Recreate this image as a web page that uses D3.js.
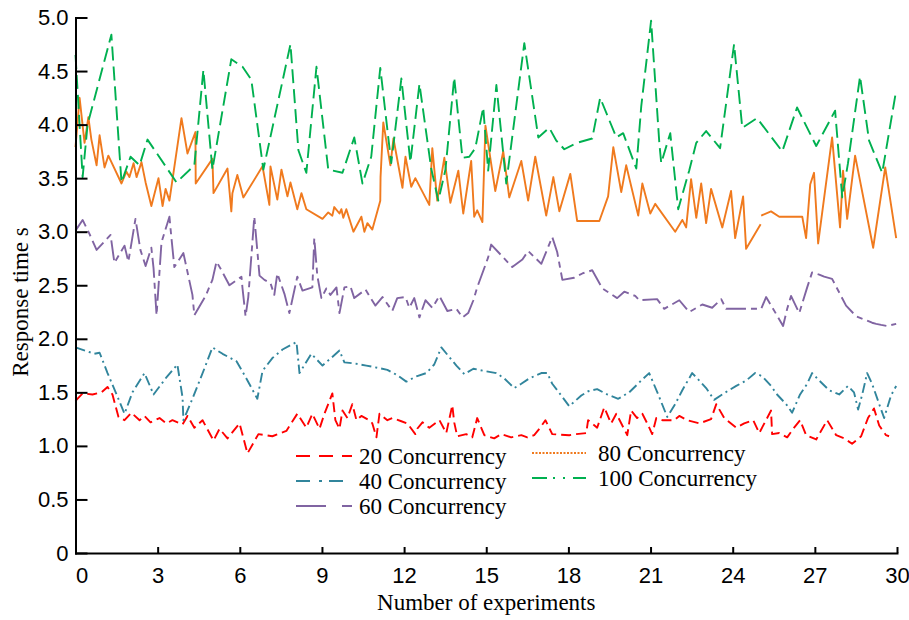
<!DOCTYPE html>
<html lang="en">
<head>
<meta charset="UTF-8">
<title>Response time vs Number of experiments</title>
<script src="https://d3js.org/d3.v7.min.js"></script>
<style>
    body {
        margin: 0;
        background: #fff;
    }
    svg {
        display: block;
        font-family: "Liberation Serif", "Times New Roman", serif;
    }
    .axis path, .axis line {
        stroke: #000;
        stroke-width: 2;
    }
    .axis text {
        font-size: 22px;
        fill: #000;
    }
    .title, .legend text {
        font-size: 23px;
        fill: #000;
    }
    .series {
        fill: none;
        stroke-width: 1.9;
        stroke-linejoin: round;
    }
</style>
</head>
<body>
<svg width="909" height="620"></svg>
<script>
    // x = experiment number, y = response time (s)
    const c20X = [0,0.26,0.62,0.95,1.17,1.35,1.57,1.79,2.04,2.34,2.52,2.74,3.07,3.32,3.54,3.91,4.09,4.34,4.64,5.04,5.26,5.55,5.99,6.28,6.68,7.19,7.70,8.10,8.43,8.65,8.91,9.09,9.38,9.49,9.64,9.75,9.93,10.11,10.26,10.44,10.73,10.84,10.99,11.10,11.39,11.57,11.90,12.12,12.41,12.48,12.67,12.92,13.29,13.54,13.76,13.83,13.94,14.27,14.49,14.67,14.93,15.29,15.55,15.91,16.28,16.50,16.75,16.97,17.16,17.41,18.03,18.29,18.65,18.72,19.05,19.31,19.56,19.75,19.97,20.15,20.29,20.51,20.70,20.88,21.06,21.21,21.43,21.86,22.05,22.34,22.78,23.21,23.40,23.69,24.13,24.42,24.75,24.97,25.40,25.44,25.70,25.99,26.21,26.46,26.68,27.05,27.45,27.78,28.07,28.36,28.69,28.94,29.16,29.35,29.60,29.71];
    const c20Y = [1.42,1.49,1.48,1.50,1.55,1.48,1.27,1.24,1.31,1.24,1.28,1.22,1.26,1.21,1.24,1.20,1.28,1.17,1.24,1.05,1.16,1.07,1.21,0.93,1.11,1.09,1.14,1.30,1.17,1.30,1.16,1.30,1.49,1.24,1.16,1.33,1.26,1.39,1.24,1.28,1.24,1.21,1.08,1.30,1.24,1.26,1.23,1.21,1.11,1.16,1.22,1.17,1.24,1.12,1.38,1.22,1.09,1.11,1.08,1.26,1.10,1.07,1.11,1.08,1.10,1.08,1.10,1.17,1.24,1.11,1.10,1.11,1.12,1.24,1.17,1.36,1.21,1.30,1.19,1.10,1.33,1.26,1.30,1.21,1.11,1.26,1.24,1.24,1.28,1.24,1.21,1.25,1.39,1.26,1.17,1.21,1.24,1.12,1.33,1.11,1.12,1.08,1.16,1.24,1.10,1.06,1.24,1.10,1.07,1.02,1.09,1.26,1.35,1.19,1.10,1.09];

    const c40X = [0,0.69,0.88,1.17,1.50,1.79,2.08,2.52,2.85,3.32,3.72,3.91,3.94,4.27,4.75,5.00,5.37,5.88,6.24,6.64,6.83,7.19,7.56,8.07,8.18,8.61,9.02,9.64,9.82,10.18,10.62,11.02,11.39,11.75,12.08,12.45,12.81,13.10,13.36,13.65,13.91,14.20,14.53,14.93,15.37,15.66,16.02,16.28,16.57,17.01,17.23,17.41,17.74,18.03,18.47,18.72,19.05,19.42,19.82,20.22,20.70,20.95,21.28,21.61,21.90,22.16,22.52,22.78,23.03,23.32,23.80,24.13,24.49,24.82,25.08,25.40,25.62,25.95,26.17,26.46,26.72,26.90,27.12,27.52,27.89,28.21,28.43,28.58,28.73,28.91,29.09,29.35,29.53,29.78,29.97];
    const c40Y = [1.92,1.86,1.87,1.68,1.48,1.30,1.50,1.68,1.48,1.64,1.76,1.45,1.24,1.44,1.75,1.92,1.86,1.79,1.63,1.44,1.70,1.82,1.90,1.97,1.68,1.86,1.75,1.89,1.78,1.77,1.75,1.73,1.71,1.66,1.60,1.65,1.68,1.76,1.92,1.83,1.75,1.67,1.72,1.70,1.68,1.63,1.54,1.58,1.63,1.68,1.68,1.58,1.47,1.37,1.47,1.51,1.53,1.48,1.44,1.50,1.62,1.68,1.48,1.27,1.39,1.52,1.68,1.61,1.54,1.43,1.51,1.56,1.61,1.68,1.65,1.56,1.48,1.39,1.31,1.48,1.58,1.68,1.62,1.52,1.48,1.56,1.50,1.34,1.48,1.68,1.58,1.39,1.26,1.47,1.56];

    const c60X = [0,0.26,0.51,0.77,1.28,1.42,1.79,1.93,2.19,2.37,2.56,2.77,2.85,2.96,3.14,3.43,3.50,3.61,3.94,4.27,4.34,4.75,5.00,5.15,5.33,5.62,6.06,6.10,6.21,6.31,6.53,6.72,6.90,7.12,7.26,7.37,7.63,7.81,8.10,8.29,8.65,8.72,8.83,8.98,9.16,9.31,9.53,9.64,9.82,10.04,10.18,10.59,10.95,11.21,11.57,11.75,12.05,12.19,12.37,12.56,12.78,13.03,13.29,13.58,13.91,14.13,14.34,14.53,14.67,15.07,15.18,15.95,16.32,16.53,17.01,17.41,17.59,17.78,18.21,18.51,18.87,19.24,19.78,20.04,20.44,20.59,21.24,21.50,22.05,22.41,22.89,23.25,23.58,23.76,24.60,25.04,25.22,25.29,25.59,25.84,25.99,26.13,26.43,26.72,26.90,27.16,27.34,27.63,28.14,28.51,28.91,29.09,29.24,29.42,29.64,29.97];
    const c60Y = [3.01,3.11,2.98,2.83,2.97,2.71,2.87,2.72,3.12,2.83,2.68,2.85,2.66,2.22,2.90,3.14,2.95,2.67,2.80,2.41,2.22,2.40,2.55,2.72,2.64,2.50,2.58,2.47,2.21,2.39,3.14,2.59,2.55,2.52,2.41,2.61,2.42,2.24,2.58,2.45,2.48,2.94,2.59,2.38,2.47,2.41,2.48,2.24,2.48,2.49,2.38,2.46,2.31,2.39,2.26,2.38,2.39,2.29,2.38,2.20,2.36,2.29,2.40,2.26,2.28,2.20,2.24,2.36,2.48,2.76,2.88,2.67,2.74,2.82,2.70,2.95,2.81,2.55,2.57,2.61,2.64,2.47,2.38,2.44,2.40,2.36,2.37,2.28,2.36,2.25,2.32,2.29,2.37,2.28,2.28,2.28,2.39,2.36,2.23,2.12,2.28,2.40,2.24,2.48,2.62,2.60,2.58,2.56,2.31,2.21,2.17,2.15,2.14,2.13,2.12,2.14];

    // null = break in the 80 line
    const c80X = [0,0.15,0.33,0.47,0.58,0.77,0.88,1.06,1.20,1.68,1.86,1.97,2.12,2.23,2.41,2.56,2.77,3.03,3.18,3.29,3.43,3.87,4.09,4.38,4.39,5.00,5.04,5.55,5.69,5.73,5.91,6.13,6.83,7.08,7.12,7.37,7.52,7.74,7.85,8.10,8.25,8.43,9.02,9.23,9.38,9.45,9.64,9.71,9.78,9.89,10.15,10.44,10.55,10.66,10.84,11.13,11.14,11.24,11.50,11.61,11.94,12.05,12.26,12.41,12.92,13.03,13.21,13.47,13.69,13.98,14.16,14.45,14.56,14.67,14.86,14.97,15.33,15.62,15.84,16.28,16.53,16.79,17.19,17.45,17.67,18.07,18.32,19.13,19.45,19.64,19.93,20.11,20.55,20.70,20.99,21.17,21.90,22.16,22.30,22.48,22.67,22.85,23.03,23.21,23.62,23.94,24.09,24.38,24.49,25.02,25.03,25.04,25.40,25.70,26.54,26.68,26.83,26.97,27.12,27.63,27.92,28.03,28.18,28.47,29.13,29.57,29.97];
    const c80Y = [3.79,4.25,3.83,4.07,3.86,3.62,3.90,3.60,3.71,3.45,3.56,3.51,3.64,3.51,3.65,3.46,3.24,3.50,3.24,3.40,3.29,4.06,3.73,3.93,3.45,3.68,3.36,3.59,3.19,3.36,3.53,3.32,3.61,3.25,3.61,3.30,3.58,3.33,3.46,3.21,3.36,3.21,3.12,3.18,3.15,3.23,3.17,3.21,3.13,3.21,3.00,3.14,3.00,3.08,3.02,3.29,3.51,4.02,3.62,3.87,3.41,3.70,3.42,3.50,3.25,3.78,3.29,3.69,3.27,3.57,3.17,3.66,3.14,3.20,3.09,3.99,3.38,3.75,3.32,3.66,3.29,3.70,3.15,3.51,3.19,3.54,3.10,3.10,3.33,3.79,3.37,3.62,3.15,3.45,3.17,3.26,3.00,3.11,3.04,3.49,3.13,3.45,3.08,3.40,3.04,3.38,2.94,3.33,2.84,3.07,null,3.15,3.19,3.14,3.14,2.94,3.44,3.55,2.89,3.88,3.04,3.57,3.12,3.71,2.85,3.60,2.94];

    const c100X = [0,0.26,0.44,1.31,1.68,2.01,2.34,2.63,3.69,4.34,4.67,5.00,5.69,6.10,6.42,6.86,7.85,8.14,8.43,8.80,9.23,9.75,10.18,10.48,10.80,11.13,11.53,11.90,12.23,12.56,12.99,13.25,13.51,13.83,14.13,14.38,14.60,14.89,15.07,15.37,15.73,16.39,16.82,16.90,17.30,17.56,17.85,18.32,18.87,19.16,19.75,20.00,20.48,20.66,21.02,21.32,21.39,21.72,22.01,22.41,22.67,23.03,23.54,24.05,24.35,24.89,25.81,26.35,27.05,27.74,28.00,28.21,28.65,28.98,29.46,29.97];
    const c100Y = [4.65,3.51,4.00,4.84,3.46,3.70,3.62,3.86,3.46,3.62,4.51,3.58,4.61,4.54,4.42,3.58,4.75,3.76,3.55,4.54,3.58,3.55,3.88,3.45,3.70,4.53,3.64,4.43,3.65,4.38,3.59,3.29,3.58,4.44,3.69,3.70,3.78,4.16,3.57,4.37,3.45,4.76,4.02,3.88,3.97,3.85,3.77,3.83,3.87,4.25,3.88,3.92,3.59,4.17,4.97,3.83,3.64,3.92,3.21,3.57,3.83,3.94,3.78,4.75,3.97,4.06,3.75,4.16,3.80,4.13,3.32,3.64,4.45,3.85,3.55,4.32];

    const seriesNames = ["20 Concurrency", "40 Concurrency", "60 Concurrency", "80 Concurrency", "100 Concurrency"];
    const seriesColors = ["#ff0000", "#31859c", "#8064a2", "#f07a1e", "#00b050"];
    const seriesX = [c20X, c40X, c60X, c80X, c100X];
    const seriesY = [c20Y, c40Y, c60Y, c80Y, c100Y];

    const xTicks = d3.range(0, 31, 3);
    const yTicks = d3.range(0, 5.01, 0.5);

    // styles
    const lineDash = ["10,5", "10,4,2,4", "20,5,6,5", null, "14,6"];
    const legendDash = ["14,9", "14,9,3,7", "30,16,10,16", "2,1.5", "15,6,2,8,2,8"];

    const svg = d3.select("svg"),
        margin = { top: 17.5, right: 12, bottom: 67, left: 75.5 },
        width = +svg.attr("width") - margin.left - margin.right,
        height = +svg.attr("height") - margin.top - margin.bottom;

    const x = d3.scaleLinear().domain([0, 30]).range([0, width]);
    const y = d3.scaleLinear().domain([0, 5]).range([height, 0]);

    const g = svg.append("g").attr("transform", `translate(${margin.left},${margin.top})`);

    const line = d3.line()
        .defined(d => d[1] != null)
        .x(d => x(d[0]))
        .y(d => y(d[1]));

    seriesNames.forEach((name, i) => {
        g.append("path")
            .datum(d3.zip(seriesX[i], seriesY[i]))
            .attr("class", "series")
            .attr("stroke", seriesColors[i])
            .attr("stroke-dasharray", lineDash[i])
            .attr("d", line);
    });

    // axes
    const xAxis = g.append("g")
        .attr("class", "axis")
        .attr("transform", `translate(0,${height})`)
        .call(d3.axisBottom(x).tickValues(xTicks).tickSizeInner(-6).tickSizeOuter(0).tickPadding(14));
    xAxis.selectAll(".tick text").filter(d => d === 0).attr("dx", 6);

    g.append("g")
        .attr("class", "axis")
        .call(d3.axisLeft(y).tickValues(yTicks).tickSizeInner(-12).tickSizeOuter(0).tickPadding(7)
            .tickFormat(d => d === 0 ? "0" : d.toFixed(1)));

    g.selectAll(".axis .domain").attr("stroke-linecap", "square");

    svg.append("text")
        .attr("class", "title")
        .attr("text-anchor", "middle")
        .attr("x", margin.left + width / 2)
        .attr("y", 610)
        .text("Number of experiments");

    svg.append("text")
        .attr("class", "title")
        .attr("text-anchor", "middle")
        .attr("transform", "translate(28,302) rotate(-90)")
        .text("Response time s");

    // legend: two columns
    const legendCols = [
        { x: 296, y: 456, len: 56, gap: 7, rows: [0, 1, 2] },
        { x: 532, y: 453, len: 54, gap: 12, rows: [3, 4] }
    ];
    const legend = svg.append("g").attr("class", "legend");
    legendCols.forEach(col => {
        col.rows.forEach((k, r) => {
            const ly = col.y + r * 25;
            legend.append("line")
                .attr("x1", col.x).attr("x2", col.x + col.len)
                .attr("y1", ly).attr("y2", ly)
                .attr("stroke", seriesColors[k])
                .attr("stroke-width", 2.2)
                .attr("stroke-dasharray", legendDash[k]);
            legend.append("text")
                .attr("x", col.x + col.len + col.gap)
                .attr("y", ly + 8)
                .text(seriesNames[k]);
        });
    });
</script>
</body>
</html>
